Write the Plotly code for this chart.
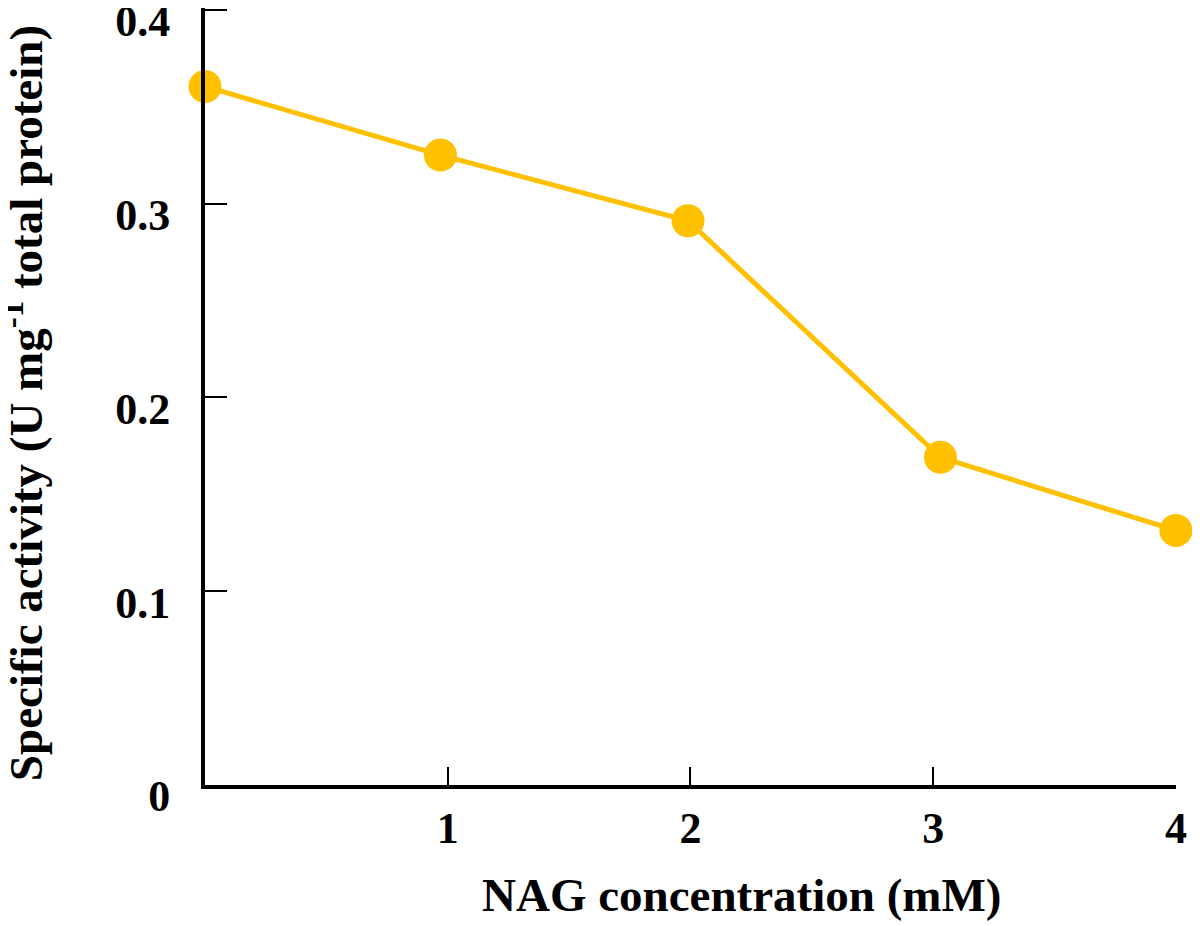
import plotly.graph_objects as go

# Data
nag_mM = [0.0, 0.97, 1.99, 3.03, 4.0]
specific_activity = [0.3605, 0.3251, 0.2912, 0.1691, 0.1314]
x_tickvals = [1, 2, 3, 4]
x_ticktext = ["1", "2", "3", "4"]
y_tickvals = [0, 0.1, 0.2, 0.3, 0.4]
y_ticktext = ["0", "0.1", "0.2", "0.3", "0.4"]

FONT = "Liberation Serif, Times New Roman, serif"
GOLD = "#FFC000"

fig = go.Figure()
fig.add_trace(go.Scatter(
    x=nag_mM, y=specific_activity, mode="lines+markers",
    line=dict(color=GOLD, width=5),
    marker=dict(color=GOLD, size=33),
    cliponaxis=False, showlegend=False,
))

fig.update_layout(
    width=1200, height=926,
    margin=dict(l=197, r=32, t=0, b=149, autoexpand=False),
    paper_bgcolor="white", plot_bgcolor="white",
    font=dict(family=FONT, color="black"),
    xaxis=dict(
        range=[0, 4.0005], tickvals=x_tickvals, ticktext=x_ticktext,
        ticks="inside", ticklen=18, tickwidth=2, tickcolor="black",
        showline=True, linecolor="black", linewidth=4,
        showgrid=False, zeroline=False,
        tickfont=dict(family=FONT, size=44, color="black", weight="bold"),
        ticklabelstandoff=1, ticklabeloverflow="allow",
    ),
    yaxis=dict(
        range=[0, 0.401], tickvals=y_tickvals, ticktext=y_ticktext,
        ticks="inside", ticklen=22, tickwidth=2, tickcolor="black",
        showline=True, linecolor="black", linewidth=4,
        showgrid=False, zeroline=False,
        tickfont=dict(family=FONT, size=44, color="black", weight="bold"),
        ticklabelstandoff=22, ticklabelshift=11, ticklabeloverflow="allow",
    ),
    annotations=[
        dict(text="<b>NAG concentration (mM)</b>", xref="paper", yref="paper",
             x=0.553, y=-0.142, xanchor="center", yanchor="middle",
             showarrow=False, font=dict(family=FONT, size=47, color="black")),
        dict(text="<b>Specific activity (U mg<sup>-1</sup> total protein)</b>",
             xref="paper", yref="paper", x=-0.187, y=0.492, textangle=-90,
             xanchor="center", yanchor="middle",
             showarrow=False, font=dict(family=FONT, size=47, color="black")),
    ],
)

fig.write_html("out.html")
